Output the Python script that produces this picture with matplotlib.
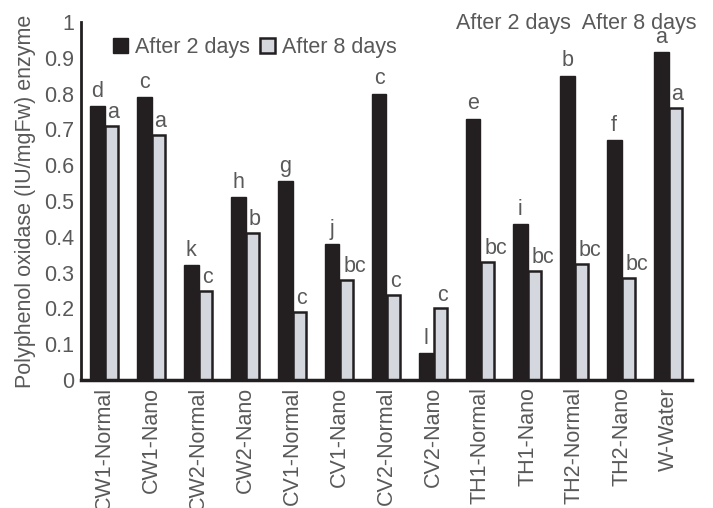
import matplotlib.pyplot as plt
import numpy as np

plt.rcParams['font.family'] = ['Liberation Sans', 'DejaVu Sans']

treatments = ['CW1-Normal', 'CW1-Nano', 'CW2-Normal', 'CW2-Nano', 'CV1-Normal',
              'CV1-Nano', 'CV2-Normal', 'CV2-Nano', 'TH1-Normal', 'TH1-Nano',
              'TH2-Normal', 'TH2-Nano', 'W-Water']
day2 = [0.765, 0.79, 0.32, 0.51, 0.555, 0.38, 0.80, 0.075, 0.73, 0.435, 0.85, 0.67, 0.915]
day8 = [0.71, 0.685, 0.25, 0.41, 0.19, 0.28, 0.237, 0.20, 0.33, 0.305, 0.325, 0.285, 0.76]
letters2 = ['d', 'c', 'k', 'h', 'g', 'j', 'c', 'l', 'e', 'i', 'b', 'f', 'a']
letters8 = ['a', 'a', 'c', 'b', 'c', 'bc', 'c', 'c', 'bc', 'bc', 'bc', 'bc', 'a']

txt = '#595959'
fs = 15.5
fig = plt.figure(figsize=(7.13, 5.08), dpi=100)
ax = fig.add_axes([81/713, 1-380/508, (692-81)/713, (380-22)/508])

x = np.arange(len(treatments))
w = 0.31
ax.bar(x - w/2, day2, w, color='#231f20', edgecolor='#231f20', linewidth=1,
       label='After 2 days', zorder=2)
ax.bar(x + w/2, day8, w*0.9, color='#d4d7dd', edgecolor='#231f20', linewidth=1.8,
       label='After 8 days', zorder=2)

for xi, v, s in zip(x, day2, letters2):
    ax.text(xi - w/2, v + 0.012, s, ha='center', va='bottom', fontsize=fs, color=txt)
for xi, v, s in zip(x, day8, letters8):
    shift = 0.17 if len(s) > 1 else 0.03
    ax.text(xi + w/2 + shift, v + 0.008, s, ha='center', va='bottom', fontsize=fs, color=txt)

ax.set_xlim(-0.5, len(treatments) - 0.5)
ax.set_ylim(0, 1)
ax.set_yticks(np.arange(0, 1.01, 0.1))
ax.set_yticklabels(['0', '0.1', '0.2', '0.3', '0.4', '0.5', '0.6', '0.7', '0.8', '0.9', '1'])
ax.set_xticks(x)
ax.set_xticklabels(treatments, rotation=90)
ax.tick_params(axis='both', length=0, labelsize=fs, labelcolor=txt, pad=5)
for sp in ['top', 'right']:
    ax.spines[sp].set_visible(False)
ax.spines['left'].set_linewidth(2)
ax.spines['bottom'].set_linewidth(2.5)
ax.spines['left'].set_color('#231f20')
ax.spines['bottom'].set_color('#231f20')

ax.set_ylabel('Polyphenol oxidase (IU/mgFw) enzyme', fontsize=fs, color=txt, labelpad=6)

ax.legend(loc='upper left', bbox_to_anchor=(0.028, 1.0), ncol=2, frameon=False,
          fontsize=fs, labelcolor=txt, handlelength=0.7, handleheight=0.7,
          handletextpad=0.3, columnspacing=0.5, borderaxespad=0.3)

fig.text(697/713, 1-23/508, 'After 2 days  After 8 days', ha='right', va='center',
         fontsize=fs, color=txt)

fig.savefig('out.png', dpi=100)
